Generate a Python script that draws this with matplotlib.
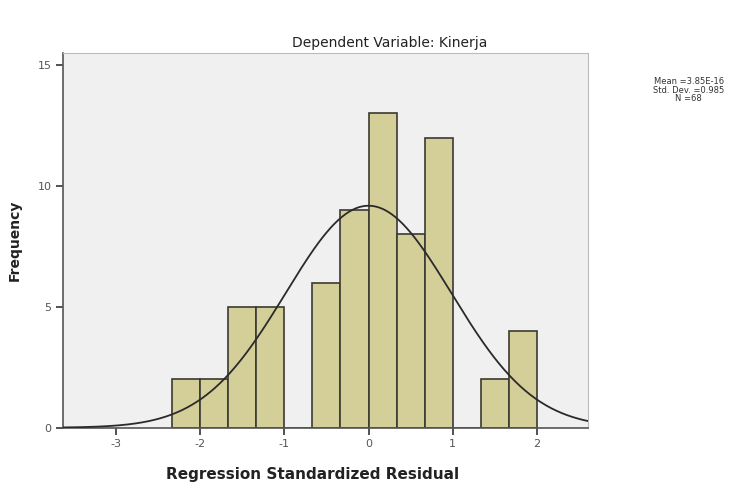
import numpy as np
import matplotlib
matplotlib.use("Agg")
import matplotlib.pyplot as plt

# Data
bin_edges = [-7/3, -2, -5/3, -4/3, -1, -2/3, -1/3, 0, 1/3, 2/3, 1, 4/3, 5/3, 2]
counts = [2, 2, 5, 5, 0, 6, 9, 13, 8, 12, 0, 2, 4]
mean_val = 3.85e-16
std_val = 0.985
n_val = 68
x_ticks = [-3, -2, -1, 0, 1, 2]
y_ticks = [0, 5, 10, 15]

fig = plt.figure(figsize=(7.35, 4.88), dpi=100)
ax = fig.add_axes([0.0861, 0.1236, 0.7139, 0.7684])
ax.set_facecolor("#f0f0f0")

edges = np.array(bin_edges)
widths = np.diff(edges)
ax.bar(edges[:-1], counts, width=widths, align="edge",
       color="#d4cf98", edgecolor="#3a3a32", linewidth=1.2, zorder=2)

bw = widths[0]
xs = np.linspace(-3.63, 2.61, 400)
ys = n_val * bw / (std_val * np.sqrt(2 * np.pi)) * np.exp(-0.5 * ((xs - mean_val) / std_val) ** 2)
ax.plot(xs, ys, color="#2a2a2a", linewidth=1.3, zorder=3)

ax.set_xlim(-3.63, 2.61)
ax.set_ylim(0, 15.51)
ax.set_xticks(x_ticks)
ax.set_yticks(y_ticks)
ax.set_xticklabels([str(t) for t in x_ticks], fontsize=8, color="#555555")
ax.set_yticklabels([str(t) for t in y_ticks], fontsize=8, color="#555555")
ax.tick_params(axis="both", direction="out", length=5, width=1.2, color="#333333")
for s in ["left", "bottom"]:
    ax.spines[s].set_color("#555555")
    ax.spines[s].set_linewidth(1.2)
for s in ["top", "right"]:
    ax.spines[s].set_color("#bbbbbb")
    ax.spines[s].set_linewidth(0.8)

ax.set_xlabel("Regression Standardized Residual", fontsize=11, fontweight="bold",
              color="#222222")
ax.xaxis.set_label_coords(0.475, -0.105)
ax.set_ylabel("Frequency", fontsize=10, fontweight="bold", color="#222222")
ax.yaxis.set_label_coords(-0.08, 0.5)

fig.text(0.53, 0.912, "Dependent Variable: Kinerja", fontsize=10, color="#222222",
         ha="center", va="center")

fig.text(0.937, 0.815, "Mean =3.85E-16\nStd. Dev. =0.985\nN =68",
         fontsize=6, color="#333333", ha="center", va="center", linespacing=0.95)

fig.savefig("out.png", dpi=100)
